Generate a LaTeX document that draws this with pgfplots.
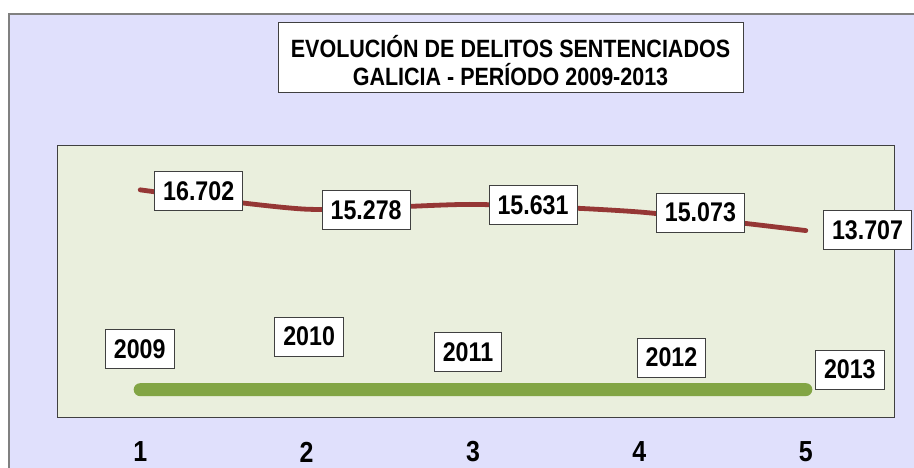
\documentclass[border=0pt]{standalone}
\usepackage{fontspec}
\setmainfont{Liberation Sans}[FakeStretch=0.86]
\usepackage{pgfplots}
\pgfplotsset{compat=1.18}
\definecolor{outerbg}{RGB}{224,224,252}
\definecolor{plotbg}{RGB}{234,239,221}
\definecolor{redline}{RGB}{149,55,53}
\definecolor{greenline}{RGB}{130,165,68}
\definecolor{frame}{RGB}{64,64,64}
\tikzset{lbl/.style={draw=frame, fill=white, line width=0.8bp, inner xsep=8.5bp, inner ysep=10bp,
    font=\fontsize{27bp}{30bp}\selectfont\bfseries}}
\begin{document}
\begin{tikzpicture}[x=1bp,y=1bp]
\useasboundingbox (0,0) rectangle (914,468);
\fill[white] (0,0) rectangle (914,468);
\fill[outerbg] (9,0) rectangle (914,454);
\draw[gray, line width=1.2bp] (9,0) -- (9,454) -- (914,454);
% title box
\draw[frame, fill=white, line width=0.8bp] (278,376) rectangle (743,446);
\node[align=center, font=\fontsize{25bp}{27.6bp}\selectfont\bfseries, inner sep=0pt] at (510.5,407.5)
  {EVOLUCIÓN DE DELITOS SENTENCIADOS\\GALICIA - PERÍODO 2009-2013};
\begin{axis}[
  at={(57bp,51bp)}, anchor=south west,
  width=837bp, height=272bp, scale only axis,
  xmin=0.5, xmax=5.53, ymin=0, ymax=20000,
  axis background/.style={fill=plotbg},
  axis line style={draw=frame, line width=0.8bp},
  xtick={1,2,3,4,5}, xticklabels={1,2,3,4,5},
  ytick=\empty, major tick length=0pt,
  xticklabel style={font=\fontsize{29bp}{32bp}\selectfont\bfseries, anchor=center, yshift=-35bp},
  /pgf/number format/assume math mode=true,
  clip=false,
]
\addplot[color=greenline, line width=13bp, line cap=round] coordinates {(1,2009)(2,2010)(3,2011)(4,2012)(5,2013)};
\addplot[color=redline, line width=4.8bp, line cap=round, smooth, tension=0.4] coordinates {(1,16702)(2,15278)(3,15631)(4,15073)(5,13707)};
\node[lbl] at ([xshift=58.5bp,yshift=-1bp]axis cs:1,16702) {16.702};
\node[lbl] at ([xshift=59.5bp,yshift=-0.8bp]axis cs:2,15278) {15.278};
\node[lbl] at ([xshift=60bp,yshift=-0.6bp]axis cs:3,15631) {15.631};
\node[lbl] at ([xshift=61bp,yshift=-0.5bp]axis cs:4,15073) {15.073};
\node[lbl] at ([xshift=61.7bp,yshift=0.6bp]axis cs:5,13707) {13.707};
\node[lbl] at ([xshift=-0.5bp,yshift=40.4bp]axis cs:1,2009) {2009};
\node[lbl] at ([xshift=2.5bp,yshift=53bp]axis cs:2,2010) {2010};
\node[lbl] at ([xshift=-5bp,yshift=37.4bp]axis cs:3,2011) {2011};
\node[lbl] at ([xshift=32bp,yshift=32bp]axis cs:4,2012) {2012};
\node[lbl] at ([xshift=44bp,yshift=20bp]axis cs:5,2013) {2013};
\end{axis}
\end{tikzpicture}
\end{document}
